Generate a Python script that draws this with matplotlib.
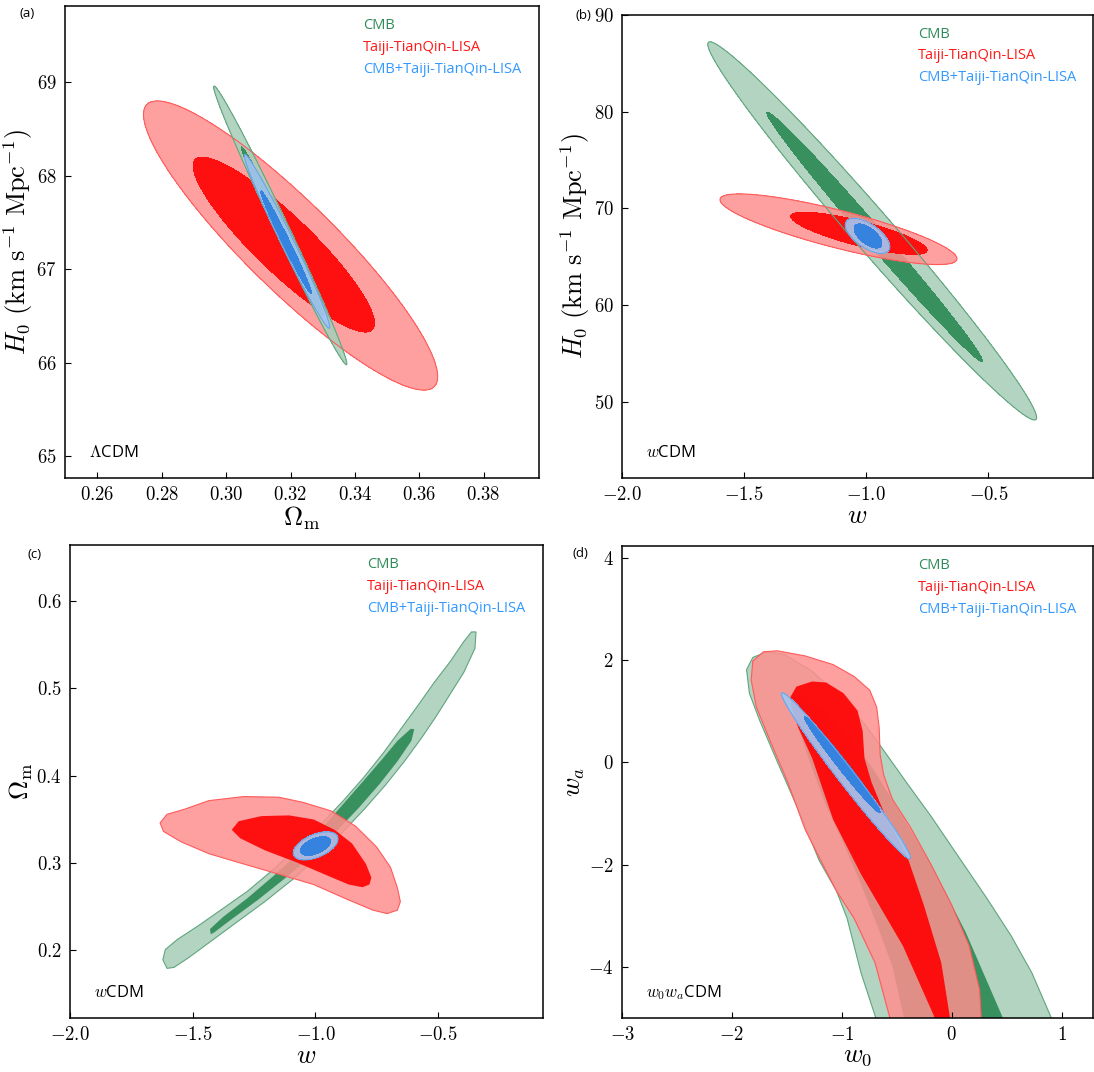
import numpy as np
import matplotlib
matplotlib.use('Agg')
import matplotlib.pyplot as plt
from matplotlib.colors import to_rgba

plt.rcParams['mathtext.fontset'] = 'cm'
plt.rcParams['font.family'] = 'serif'
plt.rcParams['font.serif'] = ['cmr10']
plt.rcParams['axes.formatter.use_mathtext'] = True

# ellipse contours: [centre x, centre y, half-width x, half-height y, correlation]
# each dataset: [2 sigma, 1 sigma]
a_cmb = [[0.3168, 67.47, 0.0207, 1.49, -0.993], [0.3175, 67.40, 0.0128, 0.91, -0.993]]
a_gw = [[0.3200, 67.255, 0.0457, 1.545, -0.906], [0.3179, 67.265, 0.0282, 0.935, -0.900]]
a_comb = [[0.3189, 67.30, 0.0133, 0.93, -0.987], [0.3186, 67.29, 0.0079, 0.55, -0.987]]

b_cmb = [[-0.976, 67.68, 0.673, 19.55, -0.987], [-0.966, 67.07, 0.4415, 12.89, -0.994]]
b_gw = [[-1.114, 67.85, 0.485, 3.65, -0.836], [-1.030, 67.43, 0.279, 2.18, -0.800]]
b_comb = [[-0.995, 67.16, 0.091, 1.81, -0.62], [-0.993, 67.15, 0.057, 1.25, -0.62]]

c_comb = [[-0.999, 0.3196, 0.091, 0.0161, 0.5], [-1.000, 0.3194, 0.061, 0.0108, 0.5]]

d_comb = [[-0.962, -0.265, 0.587, 1.625, -0.987], [-0.995, -0.05, 0.345, 0.94, -0.987]]

# outline contours: w vs Omega_m
c_cmb_outer_x = [-0.3457, -0.350, -0.3954, -0.4523, -0.5092, -0.5661, -0.6373, -0.7155, -0.8009,
                 -0.8933, -0.9929, -1.0925, -1.2063, -1.3201, -1.4339, -1.5192, -1.5761, -1.6046,
                 -1.6216, -1.6117, -1.5619, -1.4765, -1.3770, -1.2774, -1.1778, -1.0782, -0.9787,
                 -0.8862, -0.8009, -0.7226, -0.6515, -0.5804, -0.5164, -0.4523, -0.3954, -0.3642]
c_cmb_outer_y = [0.5647, 0.5459, 0.5184, 0.4929, 0.4675, 0.4439, 0.4165, 0.3890, 0.3616,
                 0.3341, 0.3067, 0.2812, 0.2557, 0.2322, 0.2086, 0.1910, 0.1804, 0.1792,
                 0.1890, 0.2008, 0.2125, 0.2282, 0.2478, 0.2675, 0.2910, 0.3165, 0.3439,
                 0.3714, 0.3988, 0.4263, 0.4537, 0.4812, 0.5067, 0.5302, 0.5537, 0.5647]
c_cmb_inner_x = [-0.5974, -0.6088, -0.6657, -0.7368, -0.8222, -0.9147, -1.0142, -1.1209, -1.2347,
                 -1.3485, -1.4125, -1.4267, -1.4296, -1.3770, -1.2774, -1.1707, -1.0711, -0.9787,
                 -0.8933, -0.8080, -0.7297, -0.6657, -0.6117]
c_cmb_inner_y = [0.4533, 0.4400, 0.4165, 0.3910, 0.3635, 0.3361, 0.3086, 0.2831, 0.2576,
                 0.2341, 0.2204, 0.2184, 0.2243, 0.2380, 0.2596, 0.2851, 0.3106, 0.3380,
                 0.3655, 0.3929, 0.4184, 0.4400, 0.4537]
c_gw_outer_x = [-1.633, -1.605, -1.533, -1.434, -1.292, -1.149, -1.050, -0.936, -0.836, -0.751,
                -0.694, -0.666, -0.654, -0.666, -0.708, -0.765, -0.865, -1.007, -1.149, -1.292,
                -1.434, -1.548, -1.619]
c_gw_outer_y = [0.3459, 0.3557, 0.3616, 0.3714, 0.3761, 0.3753, 0.3694, 0.3596, 0.3420, 0.3184,
                0.2949, 0.2714, 0.2557, 0.2459, 0.2420, 0.2459, 0.2576, 0.2753, 0.2871, 0.2988,
                0.3106, 0.3243, 0.3361]
c_gw_inner_x = [-1.341, -1.313, -1.220, -1.107, -1.007, -0.922, -0.851, -0.794, -0.772, -0.780,
                -0.808, -0.865, -0.964, -1.078, -1.206, -1.306]
c_gw_inner_y = [0.3380, 0.3478, 0.3537, 0.3545, 0.3498, 0.3380, 0.3224, 0.2988, 0.2831, 0.2753,
                0.2722, 0.2753, 0.2871, 0.3008, 0.3145, 0.3282]

# outline contours: w0 vs wa
d_cmb_outer_x = [-0.683, -0.825, -0.952, -1.048, -1.206, -1.397, -1.587, -1.746, -1.841, -1.867,
                 -1.810, -1.683, -1.524, -1.270, -1.016, -0.794, -0.635, -0.413, -0.190, 0.063,
                 0.317, 0.540, 0.730, 0.905, 0.921]
d_cmb_outer_y = [-5.05, -4.12, -3.05, -2.52, -1.92, -0.92, 0.01, 0.81, 1.35, 1.81,
                 2.05, 2.16, 2.11, 1.78, 1.28, 0.75, 0.28, -0.39, -1.05, -1.85,
                 -2.65, -3.39, -4.12, -4.99, -5.05]
d_cmb_inner_x = [-0.429, -0.540, -0.667, -0.825, -0.984, -1.143, -1.270, -1.397, -1.460, -1.365,
                 -1.143, -0.889, -0.698, -0.508, -0.190, 0.127, 0.476]
d_cmb_inner_y = [-5.05, -3.99, -3.25, -2.39, -1.59, -0.85, -0.12, 0.68, 1.28, 1.31,
                 0.95, 0.41, -0.19, -0.85, -1.99, -3.32, -5.05]
d_gw_outer_x = [-0.556, -0.698, -0.889, -1.048, -1.175, -1.333, -1.492, -1.651, -1.778, -1.825,
                -1.810, -1.714, -1.587, -1.333, -1.079, -0.889, -0.746, -0.683, -0.660, -0.651,
                -0.619, -0.540, -0.381, -0.190, 0.000, 0.159, 0.254, 0.270]
d_gw_outer_y = [-5.05, -3.92, -3.05, -2.52, -1.99, -1.32, -0.39, 0.41, 1.08, 1.61,
                1.98, 2.16, 2.18, 2.08, 1.91, 1.68, 1.41, 1.08, 0.68, 0.15,
                -0.25, -0.72, -1.25, -1.99, -2.79, -3.59, -4.45, -5.05]
d_gw_inner_x = [-0.143, -0.444, -0.825, -1.079, -1.270, -1.397, -1.460, -1.467, -1.413, -1.270,
                -1.143, -0.984, -0.857, -0.810, -0.794, -0.730, -0.603, -0.413, -0.254, -0.095,
                -0.016, -0.010]
d_gw_inner_y = [-5.05, -3.59, -2.19, -1.12, 0.08, 0.68, 1.08, 1.28, 1.48, 1.58,
                1.56, 1.35, 1.01, 0.61, 0.08, -0.39, -1.05, -1.79, -2.79, -3.92,
                -4.99, -5.05]

labels = ['CMB', 'Taiji-TianQin-LISA', 'CMB+Taiji-TianQin-LISA']
label_colors = ['#2e8b57', '#ff1a1a', '#3399ff']

# fill styles: (outer colour, inner colour, alpha outer, alpha inner, edge colour)
sty_cmb = ('#a9cfb9', '#2e8b57', 0.88, 0.92, '#5fa57e')
sty_gw = ('#ff8f8f', '#ff0000', 0.85, 0.90, '#ff5a5a')
sty_comb = ('#a3c6f0', '#2b7fe0', 0.92, 0.92, '#6aa3ea')


def grid_for(ax):
    x0, x1 = ax.get_xlim()
    y0, y1 = ax.get_ylim()
    return np.meshgrid(np.linspace(x0, x1, 900), np.linspace(y0, y1, 900))


def ellipse(ax, g, p, face, edge):
    X, Y = g
    cx, cy, hx, hy, rho = p
    u = (X - cx) / hx
    v = (Y - cy) / hy
    q = (u * u - 2 * rho * u * v + v * v) / (1 - rho ** 2)
    ax.contourf(X, Y, q, levels=[0, 1], colors=[face])
    if edge is not None:
        ax.contour(X, Y, q, levels=[1], colors=[edge], linewidths=0.8)


def ellipses(ax, g, pair, sty):
    lo, dk, ao, ai, ed = sty
    ellipse(ax, g, pair[0], to_rgba(lo, ao), ed)
    ellipse(ax, g, pair[1], to_rgba(dk, ai), None)


def outline(ax, xo, yo, xi, yi, sty):
    lo, dk, ao, ai, ed = sty
    ax.fill(xo, yo, facecolor=to_rgba(lo, ao), edgecolor=ed, lw=0.8)
    ax.fill(xi, yi, facecolor=to_rgba(dk, ai), edgecolor='none')


def decorate(ax, model, xlabel, ylabel, xticks, yticks):
    ax.set_xticks(xticks)
    ax.set_yticks(yticks)
    ax.tick_params(direction='in', length=4, width=0.8, labelsize=13.5,
                   top=False, right=False, pad=6)
    for s in ax.spines.values():
        s.set_linewidth(1.1)
    ax.set_xlabel(xlabel, fontsize=19, labelpad=0)
    ax.set_ylabel(ylabel, fontsize=19, labelpad=1)
    for i, (lab, c) in enumerate(zip(labels, label_colors)):
        ax.text(0.628, 0.958 - i * 0.046, lab, color=c, family='Open Sans',
                fontsize=10.5, va='center', transform=ax.transAxes)
    ax.text(0.051, 0.053, model, family='Open Sans', fontsize=12,
            va='center', transform=ax.transAxes)


fig = plt.figure(figsize=(10.94, 10.72), dpi=100)

# (a)
ax = fig.add_axes([0.0594, 0.5541, 0.4333, 0.4403])
ax.set_xlim(0.2499, 0.3972)
ax.set_ylim(64.77, 69.815)
g = grid_for(ax)
ellipses(ax, g, a_gw, sty_gw)
ellipses(ax, g, a_cmb, sty_cmb)
ellipses(ax, g, a_comb, sty_comb)
decorate(ax, r'$\Lambda$CDM', r'$\Omega_{\rm m}$', r'$H_0\ (\mathrm{km\ s^{-1}\ Mpc^{-1}})$',
         [0.26, 0.28, 0.30, 0.32, 0.34, 0.36, 0.38], [65, 66, 67, 68, 69])

# (b)
ax = fig.add_axes([0.5686, 0.5541, 0.4305, 0.4319])
ax.set_xlim(-2.0, -0.072)
ax.set_ylim(42.13, 90.0)
g = grid_for(ax)
ellipses(ax, g, b_cmb, sty_cmb)
ellipses(ax, g, b_gw, sty_gw)
ellipses(ax, g, b_comb, sty_comb)
decorate(ax, r'$w$CDM', r'$w$', r'$H_0\ (\mathrm{km\ s^{-1}\ Mpc^{-1}})$',
         [-2.0, -1.5, -1.0, -0.5], [50, 60, 70, 80, 90])

# (c)
ax = fig.add_axes([0.0640, 0.0504, 0.4324, 0.4412])
ax.set_xlim(-2.0, -0.0725)
ax.set_ylim(0.1224, 0.6643)
g = grid_for(ax)
outline(ax, c_cmb_outer_x, c_cmb_outer_y, c_cmb_inner_x, c_cmb_inner_y, sty_cmb)
outline(ax, c_gw_outer_x, c_gw_outer_y, c_gw_inner_x, c_gw_inner_y, sty_gw)
ellipses(ax, g, c_comb, sty_comb)
decorate(ax, r'$w$CDM', r'$w$', r'$\Omega_{\rm m}$',
         [-2.0, -1.5, -1.0, -0.5], [0.2, 0.3, 0.4, 0.5, 0.6])

# (d)
ax = fig.add_axes([0.5686, 0.0504, 0.4305, 0.4403])
ax.set_xlim(-3.0, 1.286)
ax.set_ylim(-5.0, 4.23)
g = grid_for(ax)
outline(ax, d_cmb_outer_x, d_cmb_outer_y, d_cmb_inner_x, d_cmb_inner_y, sty_cmb)
outline(ax, d_gw_outer_x, d_gw_outer_y, d_gw_inner_x, d_gw_inner_y, sty_gw)
ellipses(ax, g, d_comb, sty_comb)
decorate(ax, r'$w_0w_a$CDM', r'$w_0$', r'$w_a$',
         [-3, -2, -1, 0, 1], [-4, -2, 0, 2, 4])

for tag, x, y in [('(a)', 0.0247, 0.9874), ('(b)', 0.5329, 0.9855),
                  ('(c)', 0.0320, 0.4823), ('(d)', 0.5302, 0.4841)]:
    fig.text(x, y, tag, family='Open Sans', fontsize=9.5, ha='center', va='center')

fig.savefig('out.png', dpi=100)
